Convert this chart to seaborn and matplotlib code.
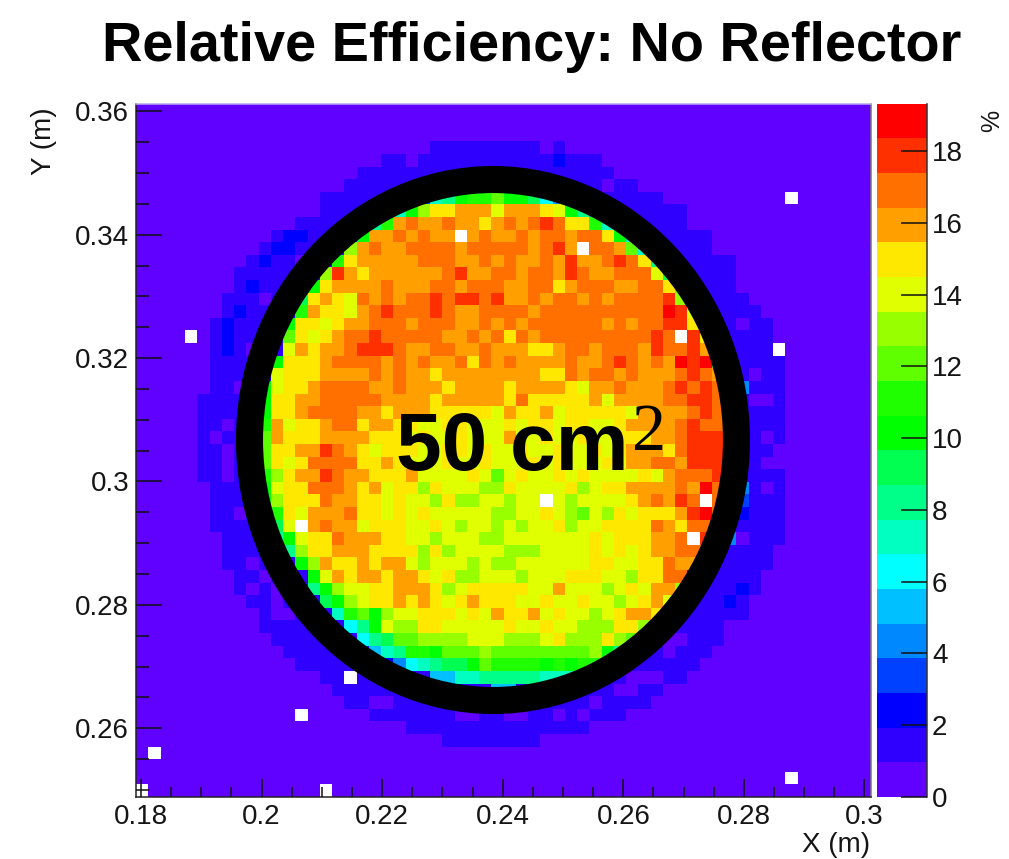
import numpy as np
import pandas as pd
import matplotlib
matplotlib.use('Agg')
import matplotlib.pyplot as plt
from matplotlib.colors import ListedColormap, BoundaryNorm
from matplotlib.patches import Ellipse
import seaborn as sns

sns.set_theme(style='white')
plt.rcParams['font.family'] = ['Liberation Sans', 'DejaVu Sans']
plt.rcParams['axes.axisbelow'] = False

# Colour bands of the z axis, low to high
band_colors = ['#6000ff', '#3000ff', '#0000ff', '#0040ff', '#0088ff', '#00c0ff', '#00ffff',
               '#00ffc0', '#00ff88', '#00ff50', '#00ff00', '#20ff00', '#60ff00', '#98ff00',
               '#e0ff00', '#ffe800', '#ffa000', '#ff7000', '#ff3000', '#ff0000']
band_codes = '0123456789abcdefghij'
z_max = 19.33
z_ticks = [0, 2, 4, 6, 8, 10, 12, 14, 16, 18]
x_ticks = [0.18, 0.2, 0.22, 0.24, 0.26, 0.28, 0.3]
x_labels = ['0.18', '0.2', '0.22', '0.24', '0.26', '0.28', '0.3']
y_ticks = [0.26, 0.28, 0.3, 0.32, 0.34, 0.36]
y_labels = ['0.26', '0.28', '0.3', '0.32', '0.34', '0.36']
x_range = (0.17917, 0.30108)
y_range = (0.24886, 0.36126)

# One character per bin (band), '.' is an empty bin. Top row first.
zero = '0000000000'
eff_rows = [
    zero + zero + zero + zero + zero + zero,
    zero + zero + zero + zero + zero + zero,
    zero + zero + zero + zero + zero + zero,
    zero + zero + '0000111111' + '1110100000' + zero + zero,
    zero + zero + '1101111111' + '1111211100' + zero + zero,
    zero + '0000000011' + '1111111111' + '1111111110' + zero + zero,
    zero + '0000000111' + '1111111111' + '1111111101' + '1000000000' + zero,
    zero + '0000011111' + '111378abbc' + 'aa96411111' + '1110000000' + '000.000000',
    zero + '0000011111' + '47adffggge' + 'gggfea8511' + '1111100000' + zero,
    zero + '0001111118' + 'bghgghggfg' + 'hghihffb75' + '1111100000' + zero,
    zero + '01221111ag' + 'ghghgg.ghg' + 'ghghhghhfa' + '7111111000' + zero,
    zero + '1221111dgh' + 'gghhhhghhh' + 'hhghig.hhg' + 'c711111000' + zero,
    '0000000001' + '211011bfgg' + 'ggghhhgghg' + 'hgghgigghi' + 'hf81111110' + zero,
    '0000000011' + '11111digfg' + 'ggggghiggh' + 'hghhgihggh' + 'hhe9111110' + zero,
    '0000000012' + '1111afgggg' + 'hggghhghhh' + 'gghhfghhhg' + 'ghhfc11110' + zero,
    '0000000111' + '0119fgfehg' + 'hghhihiihi' + 'gghghhghgh' + 'hhhid11111' + zero,
    '0000000121' + '111bgffegh' + 'ihhhihgghh' + 'hhghhhhhhh' + 'hhhjie1111' + '1000000000',
    '0000001211' + '11affefggh' + 'hhghhhgghg' + 'hghhhhhhgh' + 'ghhiif1110' + '1100000000',
    '0000.01211' + '11cfefghhi' + 'hhhhhgghgh' + 'fhghhhhhhh' + 'hhih.if111' + '1100000000',
    '0000001210' + '11egfgghii' + 'ihgghhgghg' + 'ggffghhghh' + 'hgihhig111' + '11.0000000',
    '0000001111' + '1afffghhhh' + 'ghghgghfhg' + 'hgggghgghi' + 'hghgjijd11' + '1110000000',
    '0000001111' + '1efffggggh' + 'ghggfggggg' + 'gggffhghhg' + 'hggghihg11' + '0110000000',
    '0000001101' + 'aeffghhhhg' + 'ghgggfgggg' + 'fggggfeggh' + 'ggghihih14' + '1110000000',
    '0000011111' + 'affgghhhhh' + 'ggggfggggg' + 'fhfffffgeg' + 'ggghhiih11' + '0010000000',
    '0000011111' + 'affghhhhgg' + 'fgggfffffe' + 'gffgefffff' + 'egggghih11' + '1110000000',
    '0000011011' + 'bgeffghhfg' + 'gffeeffeee' + 'feffeffeef' + 'gggghihh11' + '1110000000',
    '0000010111' + 'cgfffggggf' + 'ffefeefeee' + 'geefeefeef' + 'ffgghiii11' + '1010000000',
    '0000011011' + 'cffggihgfe' + 'fffeeffefe' + 'efeefeefef' + 'gggfhiii11' + '1100000000',
    '0000011011' + 'cfefhhhhff' + 'gfeeefeefe' + 'eefefeeefe' + 'gghhgiii11' + '1000000000',
    '0000011011' + 'bdfggihggf' + 'ffgeeeefec' + 'efeefefeee' + 'efeghhhi11' + '1110000000',
    '0000001111' + 'aeffhhhgfg' + 'effdfeeedd' + 'feeeefdeff' + 'gggghgjh14' + '1010000000',
    '0000001111' + 'adfffhggff' + 'efeedfddee' + 'dee.edeeee' + 'fghgih.h13' + '1110000000',
    '0000001101' + '9bfeggghff' + 'efefeeeeed' + 'deefedcedf' + 'efffgijh12' + '1110000000',
    '0000001111' + '99e.ghggef' + 'ffeefedeed' + 'edeefdeeff' + 'ffhgfhh111' + '1110000000',
    '0000000111' + '18aeffhggg' + 'ffeedeeedd' + 'eeeeeeefef' + 'ffggh.i140' + '1110000000',
    '0000000111' + '118dffgggf' + 'fffdfdeeee' + 'dddeeeefef' + 'efgghhg111' + '1100000000',
    '0000000110' + '111adgffgf' + 'ggedeeeded' + 'deeeeeeffe' + 'effhgg1111' + '1100000000',
    '0000000011' + '0111aegfgg' + 'fggfefddee' + 'edeeefffee' + 'dffhh11111' + '1000000000',
    '0000000010' + '10118adeef' + 'fgggfdefff' + 'ffeegeeede' + 'feggd11112' + '1000000000',
    '0000000001' + '101119adef' + 'fgfgfefgff' + 'feefeefeed' + 'efge111121' + zero,
    zero + '1001117bca' + 'deefffefeg' + 'ffgefeedef' + 'ggf1111111' + zero,
    zero + '111111168a' + 'eddffeeeee' + 'feefeedddf' + 'fd11111100' + zero,
    zero + '0111111168' + '9ccddddeee' + 'dddefdddfd' + 'c910011100' + zero,
    zero + '0011111115' + '78bbacccdc' + 'cccccccda8' + '4110111000' + zero,
    zero + '0001111111' + '2467899acb' + 'bbbababb11' + '1111110000' + zero,
    zero + '0000011.11' + '1111557788' + '8887771111' + '0001100000' + zero,
    zero + '0000001111' + '1111111115' + '5111111110' + '0110000000' + zero,
    zero + '0000000110' + '0111111111' + '1111111011' + '1100000000' + zero,
    zero + '000.000001' + '1111110011' + '0011010111' + zero + zero,
    zero + zero + '0011111111' + '1111111000' + zero + zero,
    zero + zero + '0000011111' + '1110000000' + zero + zero,
    '0.00000000' + zero + zero + zero + zero + zero,
    zero + zero + zero + zero + zero + zero,
    zero + zero + zero + zero + zero + '000.000000',
    '.000000000' + '00000.0000' + zero + zero + zero + zero,
]

# Bin contents in percent, band centre of each read colour
band_width = z_max / len(band_colors)
eff = pd.DataFrame([[np.nan if ch == '.' else (band_codes.index(ch) + 0.5) * band_width for ch in row]
                    for row in eff_rows])

W, H = 1009, 859
fig = plt.figure(figsize=(W / 100, H / 100), dpi=100, facecolor='white')
ax = fig.add_axes([136 / W, 1 - 797 / H, 735 / W, 693.5 / H])
cax = fig.add_axes([876.5 / W, 1 - 797 / H, 50 / W, 693.5 / H])

cmap = ListedColormap(band_colors)
cmap.set_bad('white')
bounds = np.linspace(0, z_max, len(band_colors) + 1)
norm = BoundaryNorm(bounds, cmap.N)
sns.heatmap(eff, ax=ax, cbar_ax=cax, cmap=cmap, norm=norm, xticklabels=False, yticklabels=False,
            cbar_kws={'ticks': z_ticks, 'drawedges': False})
ax.set_xlabel('')
ax.set_ylabel('')

# Heatmap axes run over bin index, so map the physical ticks onto them
nrows, ncols = eff.shape
def xpos(v):
    return (np.asarray(v) - x_range[0]) / (x_range[1] - x_range[0]) * ncols
def ypos(v):
    return (y_range[1] - np.asarray(v)) / (y_range[1] - y_range[0]) * nrows

txt = '#151515'
ax.set_axisbelow(False)
ax.set_xticks(xpos(x_ticks))
ax.set_xticklabels(x_labels, fontsize=20, color=txt)
ax.set_yticks(ypos(y_ticks))
ax.set_yticklabels(y_labels, fontsize=20, color=txt)
ax.set_xticks(xpos(np.arange(0.185, 0.3, 0.005)), minor=True)
ax.set_yticks(ypos(np.arange(0.25, 0.36, 0.005)), minor=True)
ax.tick_params(axis='x', which='major', direction='in', length=13, width=1.1, color='#111111', pad=5, bottom=True)
ax.tick_params(axis='x', which='minor', direction='in', length=7, width=1.1, color='#111111', bottom=True)
ax.tick_params(axis='y', which='major', direction='in', length=19, width=1.1, color='#111111', pad=5, left=True)
ax.tick_params(axis='y', which='minor', direction='in', length=9.5, width=1.1, color='#111111', left=True)
for name, sp in ax.spines.items():
    sp.set_visible(True)
    sp.set_linewidth(1.1)
    sp.set_color('#222222' if name in ('left', 'bottom') else '#777777')
ax.spines['top'].set_color('#b9a8f0')

cbar = ax.collections[0].colorbar
cbar.ax.minorticks_off()
cbar.ax.set_axisbelow(False)
cbar.ax.tick_params(which='major', direction='in', length=19, width=1.1, color='#111111', labelsize=20,
                    labelcolor=txt, pad=4, right=True)
cbar.outline.set_visible(False)
cbar.ax.spines['right'].set_visible(True)
cbar.ax.spines['right'].set_color('#333333')
cbar.ax.spines['right'].set_linewidth(1.1)

fig.text(532 / W, 1 - 47 / H, 'Relative Efficiency: No Reflector', fontsize=40.2, fontweight='bold',
         ha='center', va='center', color='black')
fig.text(870 / W, 1 - 845 / H, 'X (m)', fontsize=20, ha='right', va='center', color=txt)
fig.text(44 / W, 1 - 107 / H, 'Y (m)', fontsize=20, rotation=90, ha='center', va='top', color=txt)
fig.text(992 / W, 1 - 110 / H, '%', fontsize=18, rotation=90, ha='center', va='top', color=txt)

# Black ring and area note laid over the map
fig.add_artist(Ellipse((493 / W, 1 - 440 / H), 487 / W, 521 / H, transform=fig.transFigure,
                       fill=False, edgecolor='black', linewidth=19.5))
fig.text(396 / W, 1 - 470 / H, '50 cm', fontsize=59, fontweight='bold', ha='left', va='baseline', color='black')
fig.text(632 / W, 1 - 450 / H, '2', fontsize=49, family='Liberation Serif', ha='left', va='baseline', color='black')

fig.savefig('out.png', dpi=100)
